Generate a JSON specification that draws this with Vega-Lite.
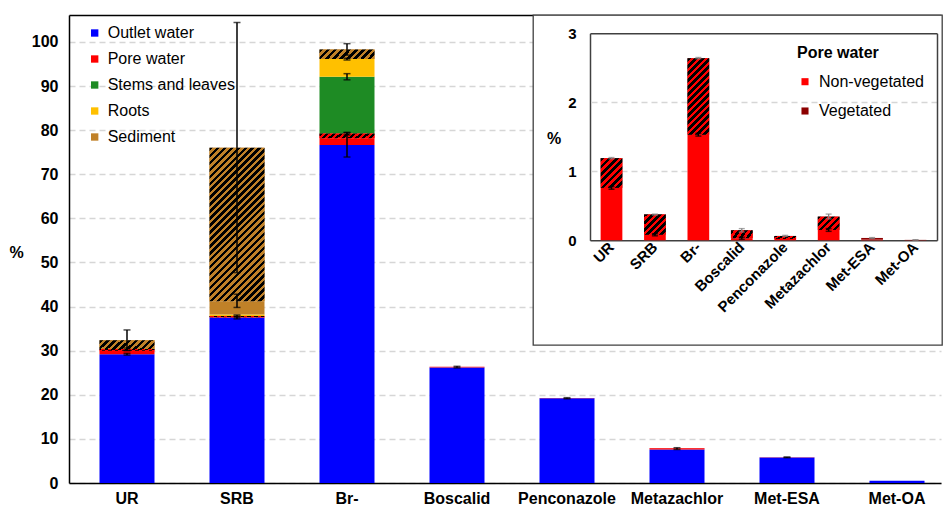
{
  "$schema": "https://vega.github.io/schema/vega-lite/v6.json",
  "padding": {"left": 8, "top": 14, "right": 0, "bottom": 0},
  "autosize": {"type": "pad"},
  "align": "none",
  "spacing": -409,
  "config": {
    "font": "Liberation Sans",
    "view": {"stroke": null},
    "axis": {"tickSize": 0, "ticks": false, "labelOverlap": false, "labelColor": "#000", "titleColor": "#000", "labelFont": "Liberation Sans", "titleFont": "Liberation Sans", "domainColor": "#000", "domainWidth": 1.5},
    "axisX": {"grid": false},
    "legend": {"labelFont": "Liberation Sans", "titleFont": "Liberation Sans", "labelColor": "#000", "titleColor": "#000"}
  },
  "resolve": {"scale": {"x": "independent", "y": "independent", "color": "independent"}, "legend": {"color": "independent"}},
  "datasets": {
    "main": [
      {"cat":"UR","comp":"Outlet water","veg":"","lo":0,"hi":29.2},
      {"cat":"UR","comp":"Pore water","veg":"Non-vegetated","lo":29.2,"hi":29.96},
      {"cat":"UR","comp":"Pore water","veg":"Vegetated","lo":29.96,"hi":30.39},
      {"cat":"UR","comp":"Sediment","veg":"Vegetated","lo":30.39,"hi":32.35},
      {"cat":"SRB","comp":"Outlet water","veg":"","lo":0,"hi":37.5},
      {"cat":"SRB","comp":"Pore water","veg":"Non-vegetated","lo":37.5,"hi":37.58},
      {"cat":"SRB","comp":"Pore water","veg":"Vegetated","lo":37.58,"hi":37.87},
      {"cat":"SRB","comp":"Roots","veg":"","lo":37.87,"hi":38.2},
      {"cat":"SRB","comp":"Sediment","veg":"Non-vegetated","lo":38.2,"hi":41.2},
      {"cat":"SRB","comp":"Sediment","veg":"Vegetated","lo":41.2,"hi":76.0},
      {"cat":"Br-","comp":"Outlet water","veg":"","lo":0,"hi":76.6},
      {"cat":"Br-","comp":"Pore water","veg":"Non-vegetated","lo":76.6,"hi":78.13},
      {"cat":"Br-","comp":"Pore water","veg":"Vegetated","lo":78.13,"hi":79.24},
      {"cat":"Br-","comp":"Stems and leaves","veg":"","lo":79.24,"hi":92.1},
      {"cat":"Br-","comp":"Roots","veg":"","lo":92.1,"hi":96.1},
      {"cat":"Br-","comp":"Sediment","veg":"Vegetated","lo":96.1,"hi":98.3},
      {"cat":"Boscalid","comp":"Outlet water","veg":"","lo":0,"hi":26.2},
      {"cat":"Boscalid","comp":"Pore water","veg":"Non-vegetated","lo":26.2,"hi":26.23},
      {"cat":"Boscalid","comp":"Pore water","veg":"Vegetated","lo":26.23,"hi":26.35},
      {"cat":"Penconazole","comp":"Outlet water","veg":"","lo":0,"hi":19.2},
      {"cat":"Penconazole","comp":"Pore water","veg":"Non-vegetated","lo":19.2,"hi":19.22},
      {"cat":"Penconazole","comp":"Pore water","veg":"Vegetated","lo":19.22,"hi":19.26},
      {"cat":"Metazachlor","comp":"Outlet water","veg":"","lo":0,"hi":7.6},
      {"cat":"Metazachlor","comp":"Pore water","veg":"Non-vegetated","lo":7.6,"hi":7.75},
      {"cat":"Metazachlor","comp":"Pore water","veg":"Vegetated","lo":7.75,"hi":7.94},
      {"cat":"Met-ESA","comp":"Outlet water","veg":"","lo":0,"hi":5.8},
      {"cat":"Met-ESA","comp":"Pore water","veg":"Non-vegetated","lo":5.8,"hi":5.81},
      {"cat":"Met-ESA","comp":"Pore water","veg":"Vegetated","lo":5.81,"hi":5.83},
      {"cat":"Met-OA","comp":"Outlet water","veg":"","lo":0,"hi":0.5},
      {"cat":"Met-OA","comp":"Pore water","veg":"Non-vegetated","lo":0.5,"hi":0.503},
      {"cat":"Met-OA","comp":"Pore water","veg":"Vegetated","lo":0.503,"hi":0.506}
    ],
    "mainErr": [
      {"cat":"UR","lo":29.0,"hi":29.4},{"cat":"UR","lo":30.1,"hi":30.6},{"cat":"UR","lo":30.0,"hi":34.7},
      {"cat":"SRB","lo":37.2,"hi":37.8},{"cat":"SRB","lo":37.6,"hi":38.1},{"cat":"SRB","lo":39.8,"hi":42.8},{"cat":"SRB","lo":47.7,"hi":104.4},
      {"cat":"Br-","lo":73.9,"hi":79.4},{"cat":"Br-","lo":78.9,"hi":79.5},{"cat":"Br-","lo":91.4,"hi":92.8},{"cat":"Br-","lo":95.9,"hi":96.3},{"cat":"Br-","lo":97.0,"hi":99.6},
      {"cat":"Boscalid","lo":26.1,"hi":26.45},{"cat":"Penconazole","lo":19.1,"hi":19.35},{"cat":"Metazachlor","lo":7.6,"hi":8.0},{"cat":"Met-ESA","lo":5.75,"hi":5.9}
    ],
    "inset": [
      {"cat":"UR","veg":"Non-vegetated","lo":0,"hi":0.76},{"cat":"UR","veg":"Vegetated","lo":0.76,"hi":1.19},
      {"cat":"SRB","veg":"Non-vegetated","lo":0,"hi":0.08},{"cat":"SRB","veg":"Vegetated","lo":0.08,"hi":0.375},
      {"cat":"Br-","veg":"Non-vegetated","lo":0,"hi":1.53},{"cat":"Br-","veg":"Vegetated","lo":1.53,"hi":2.64},
      {"cat":"Boscalid","veg":"Non-vegetated","lo":0,"hi":0.03},{"cat":"Boscalid","veg":"Vegetated","lo":0.03,"hi":0.145},
      {"cat":"Penconazole","veg":"Non-vegetated","lo":0,"hi":0.02},{"cat":"Penconazole","veg":"Vegetated","lo":0.02,"hi":0.063},
      {"cat":"Metazachlor","veg":"Non-vegetated","lo":0,"hi":0.15},{"cat":"Metazachlor","veg":"Vegetated","lo":0.15,"hi":0.343},
      {"cat":"Met-ESA","veg":"Non-vegetated","lo":0,"hi":0.01},{"cat":"Met-ESA","veg":"Vegetated","lo":0.01,"hi":0.034},
      {"cat":"Met-OA","veg":"Non-vegetated","lo":0,"hi":0.003},{"cat":"Met-OA","veg":"Vegetated","lo":0.003,"hi":0.006}
    ],
    "insetErr": [
      {"cat":"UR","veg":"Vegetated","lo":1.18,"hi":1.2},{"cat":"SRB","veg":"Vegetated","lo":0.365,"hi":0.38},{"cat":"Br-","veg":"Vegetated","lo":2.63,"hi":2.65},
      {"cat":"Boscalid","veg":"Vegetated","lo":0.12,"hi":0.17},{"cat":"Penconazole","veg":"Vegetated","lo":0.055,"hi":0.072},{"cat":"Metazachlor","veg":"Vegetated","lo":0.31,"hi":0.38},
      {"cat":"Met-ESA","veg":"Vegetated","lo":0.027,"hi":0.04},{"cat":"Met-OA","veg":"Vegetated","lo":0.003,"hi":0.009},
      {"cat":"UR","veg":"Non-vegetated","lo":0.74,"hi":0.78},{"cat":"SRB","veg":"Non-vegetated","lo":0.065,"hi":0.095},{"cat":"Br-","veg":"Non-vegetated","lo":1.51,"hi":1.55},
      {"cat":"Boscalid","veg":"Non-vegetated","lo":0.015,"hi":0.045},{"cat":"Metazachlor","veg":"Non-vegetated","lo":0.13,"hi":0.17}
    ]
  },
  "hconcat": [
    {
      "width": 872,
      "height": 468,
      "resolve": {"axis": {"x": "independent"}},
      "layer": [
        {
          "data": {"name": "main"},
          "mark": {"type": "bar"},
          "encoding": {
            "x": {"field": "cat", "type": "nominal",
              "scale": {"domain": ["UR","SRB","Br-","Boscalid","Penconazole","Metazachlor","Met-ESA","Met-OA"], "paddingInner": 0.5, "paddingOuter": 0.2136, "align": 0.649},
              "axis": {"orient": "bottom", "title": null, "labelFontSize": 16, "labelFontWeight": "bold", "labelAngle": 0, "labelPadding": 7, "domainColor": "#000", "domainWidth": 1.5}},
            "y": {"field": "lo", "type": "quantitative", "title": "%",
              "scale": {"domain": [0, 106.1], "nice": false, "zero": true},
              "axis": {"orient": "left", "values": [0,10,20,30,40,50,60,70,80,90,100], "format": "d", "title": "%", "titleAngle": 0, "titleX": -53, "titleY": 237, "titleAlign": "center", "titleBaseline": "middle", "titleFontSize": 16, "titleFontWeight": "bold", "labelFontSize": 16, "labelFontWeight": "bold", "labelPadding": 11, "grid": true, "gridColor": "#D6D6D6", "gridDash": [6, 4], "gridWidth": 1.3, "domain": true, "domainColor": "#000", "domainWidth": 1.5}},
            "y2": {"field": "hi"},
            "color": {"field": "comp", "type": "nominal",
              "scale": {"domain": ["Outlet water","Pore water","Stems and leaves","Roots","Sediment"], "range": ["#0000FF","#FF0000","#1E8B24","#FFC000","#C08128"]},
              "legend": {"title": null, "orient": "none", "legendX": 17.7, "legendY": 10, "symbolType": "square", "symbolSize": 54, "labelFontSize": 16, "labelOffset": 5, "rowPadding": 10, "padding": 0, "symbolStrokeWidth": 0}}
          }
        },
        {
          "data": {"name": "main"},
          "transform": [{"filter": "datum.comp === 'Sediment' && datum.veg === 'Vegetated' && datum.cat !== 'SRB'"}],
          "mark": {"type": "bar", "fill": {"gradient": "linear", "x1": 0, "y1": 0, "x2": 1.13, "y2": 0.19, "stops": [{"offset":0,"color":"#000"},{"offset":0.0556,"color":"#000"},{"offset":0.0556,"color":"#C08128"},{"offset":0.1111,"color":"#C08128"},{"offset":0.1111,"color":"#000"},{"offset":0.1667,"color":"#000"},{"offset":0.1667,"color":"#C08128"},{"offset":0.2222,"color":"#C08128"},{"offset":0.2222,"color":"#000"},{"offset":0.2778,"color":"#000"},{"offset":0.2778,"color":"#C08128"},{"offset":0.3333,"color":"#C08128"},{"offset":0.3333,"color":"#000"},{"offset":0.3889,"color":"#000"},{"offset":0.3889,"color":"#C08128"},{"offset":0.4444,"color":"#C08128"},{"offset":0.4444,"color":"#000"},{"offset":0.5,"color":"#000"},{"offset":0.5,"color":"#C08128"},{"offset":0.5556,"color":"#C08128"},{"offset":0.5556,"color":"#000"},{"offset":0.6111,"color":"#000"},{"offset":0.6111,"color":"#C08128"},{"offset":0.6667,"color":"#C08128"},{"offset":0.6667,"color":"#000"},{"offset":0.7222,"color":"#000"},{"offset":0.7222,"color":"#C08128"},{"offset":0.7778,"color":"#C08128"},{"offset":0.7778,"color":"#000"},{"offset":0.8333,"color":"#000"},{"offset":0.8333,"color":"#C08128"},{"offset":0.8889,"color":"#C08128"},{"offset":0.8889,"color":"#000"},{"offset":0.9444,"color":"#000"},{"offset":0.9444,"color":"#C08128"},{"offset":1,"color":"#C08128"}]}},
          "encoding": {
            "x": {"field": "cat", "type": "nominal", "axis": {"orient": "top", "labels": false, "ticks": false, "domain": true, "domainColor": "#000", "domainWidth": 1.5, "title": null, "grid": false}},
            "y": {"field": "lo", "type": "quantitative", "title": "%"},
            "y2": {"field": "hi"}
          }
        },
        {
          "data": {"name": "main"},
          "transform": [{"filter": "datum.comp === 'Pore water' && datum.veg === 'Vegetated' && (datum.cat === 'UR' || datum.cat === 'SRB' || datum.cat === 'Br-')"}],
          "mark": {"type": "bar", "fill": {"gradient": "linear", "x1": 0, "y1": 0, "x2": 1.09, "y2": 0.113, "stops": [{"offset":0,"color":"#000"},{"offset":0.0556,"color":"#000"},{"offset":0.0556,"color":"#F00"},{"offset":0.1111,"color":"#F00"},{"offset":0.1111,"color":"#000"},{"offset":0.1667,"color":"#000"},{"offset":0.1667,"color":"#F00"},{"offset":0.2222,"color":"#F00"},{"offset":0.2222,"color":"#000"},{"offset":0.2778,"color":"#000"},{"offset":0.2778,"color":"#F00"},{"offset":0.3333,"color":"#F00"},{"offset":0.3333,"color":"#000"},{"offset":0.3889,"color":"#000"},{"offset":0.3889,"color":"#F00"},{"offset":0.4444,"color":"#F00"},{"offset":0.4444,"color":"#000"},{"offset":0.5,"color":"#000"},{"offset":0.5,"color":"#F00"},{"offset":0.5556,"color":"#F00"},{"offset":0.5556,"color":"#000"},{"offset":0.6111,"color":"#000"},{"offset":0.6111,"color":"#F00"},{"offset":0.6667,"color":"#F00"},{"offset":0.6667,"color":"#000"},{"offset":0.7222,"color":"#000"},{"offset":0.7222,"color":"#F00"},{"offset":0.7778,"color":"#F00"},{"offset":0.7778,"color":"#000"},{"offset":0.8333,"color":"#000"},{"offset":0.8333,"color":"#F00"},{"offset":0.8889,"color":"#F00"},{"offset":0.8889,"color":"#000"},{"offset":0.9444,"color":"#000"},{"offset":0.9444,"color":"#F00"},{"offset":1,"color":"#F00"}]}},
          "encoding": {
            "x": {"field": "cat", "type": "nominal", "axis": null},
            "y": {"field": "lo", "type": "quantitative", "title": "%"},
            "y2": {"field": "hi"}
          }
        },
        {
          "data": {"name": "main"},
          "transform": [{"filter": "datum.comp === 'Sediment' && datum.veg === 'Vegetated' && datum.cat === 'SRB'"}],
          "mark": {"type": "bar", "fill": {"gradient": "linear", "x1": 0, "y1": 0, "x2": 0.4313, "y2": 1.2038, "stops": [
            {"offset":0,"color":"#000"},{"offset":0.0167,"color":"#000"},{"offset":0.0167,"color":"#C08128"},{"offset":0.0333,"color":"#C08128"},
            {"offset":0.0333,"color":"#000"},{"offset":0.05,"color":"#000"},{"offset":0.05,"color":"#C08128"},{"offset":0.0667,"color":"#C08128"},
            {"offset":0.0667,"color":"#000"},{"offset":0.0833,"color":"#000"},{"offset":0.0833,"color":"#C08128"},{"offset":0.1,"color":"#C08128"},
            {"offset":0.1,"color":"#000"},{"offset":0.1167,"color":"#000"},{"offset":0.1167,"color":"#C08128"},{"offset":0.1333,"color":"#C08128"},
            {"offset":0.1333,"color":"#000"},{"offset":0.15,"color":"#000"},{"offset":0.15,"color":"#C08128"},{"offset":0.1667,"color":"#C08128"},
            {"offset":0.1667,"color":"#000"},{"offset":0.1833,"color":"#000"},{"offset":0.1833,"color":"#C08128"},{"offset":0.2,"color":"#C08128"},
            {"offset":0.2,"color":"#000"},{"offset":0.2167,"color":"#000"},{"offset":0.2167,"color":"#C08128"},{"offset":0.2333,"color":"#C08128"},
            {"offset":0.2333,"color":"#000"},{"offset":0.25,"color":"#000"},{"offset":0.25,"color":"#C08128"},{"offset":0.2667,"color":"#C08128"},
            {"offset":0.2667,"color":"#000"},{"offset":0.2833,"color":"#000"},{"offset":0.2833,"color":"#C08128"},{"offset":0.3,"color":"#C08128"},
            {"offset":0.3,"color":"#000"},{"offset":0.3167,"color":"#000"},{"offset":0.3167,"color":"#C08128"},{"offset":0.3333,"color":"#C08128"},
            {"offset":0.3333,"color":"#000"},{"offset":0.35,"color":"#000"},{"offset":0.35,"color":"#C08128"},{"offset":0.3667,"color":"#C08128"},
            {"offset":0.3667,"color":"#000"},{"offset":0.3833,"color":"#000"},{"offset":0.3833,"color":"#C08128"},{"offset":0.4,"color":"#C08128"},
            {"offset":0.4,"color":"#000"},{"offset":0.4167,"color":"#000"},{"offset":0.4167,"color":"#C08128"},{"offset":0.4333,"color":"#C08128"},
            {"offset":0.4333,"color":"#000"},{"offset":0.45,"color":"#000"},{"offset":0.45,"color":"#C08128"},{"offset":0.4667,"color":"#C08128"},
            {"offset":0.4667,"color":"#000"},{"offset":0.4833,"color":"#000"},{"offset":0.4833,"color":"#C08128"},{"offset":0.5,"color":"#C08128"},
            {"offset":0.5,"color":"#000"},{"offset":0.5167,"color":"#000"},{"offset":0.5167,"color":"#C08128"},{"offset":0.5333,"color":"#C08128"},
            {"offset":0.5333,"color":"#000"},{"offset":0.55,"color":"#000"},{"offset":0.55,"color":"#C08128"},{"offset":0.5667,"color":"#C08128"},
            {"offset":0.5667,"color":"#000"},{"offset":0.5833,"color":"#000"},{"offset":0.5833,"color":"#C08128"},{"offset":0.6,"color":"#C08128"},
            {"offset":0.6,"color":"#000"},{"offset":0.6167,"color":"#000"},{"offset":0.6167,"color":"#C08128"},{"offset":0.6333,"color":"#C08128"},
            {"offset":0.6333,"color":"#000"},{"offset":0.65,"color":"#000"},{"offset":0.65,"color":"#C08128"},{"offset":0.6667,"color":"#C08128"},
            {"offset":0.6667,"color":"#000"},{"offset":0.6833,"color":"#000"},{"offset":0.6833,"color":"#C08128"},{"offset":0.7,"color":"#C08128"},
            {"offset":0.7,"color":"#000"},{"offset":0.7167,"color":"#000"},{"offset":0.7167,"color":"#C08128"},{"offset":0.7333,"color":"#C08128"},
            {"offset":0.7333,"color":"#000"},{"offset":0.75,"color":"#000"},{"offset":0.75,"color":"#C08128"},{"offset":0.7667,"color":"#C08128"},
            {"offset":0.7667,"color":"#000"},{"offset":0.7833,"color":"#000"},{"offset":0.7833,"color":"#C08128"},{"offset":0.8,"color":"#C08128"},
            {"offset":0.8,"color":"#000"},{"offset":0.8167,"color":"#000"},{"offset":0.8167,"color":"#C08128"},{"offset":0.8333,"color":"#C08128"},
            {"offset":0.8333,"color":"#000"},{"offset":0.85,"color":"#000"},{"offset":0.85,"color":"#C08128"},{"offset":0.8667,"color":"#C08128"},
            {"offset":0.8667,"color":"#000"},{"offset":0.8833,"color":"#000"},{"offset":0.8833,"color":"#C08128"},{"offset":0.9,"color":"#C08128"},
            {"offset":0.9,"color":"#000"},{"offset":0.9167,"color":"#000"},{"offset":0.9167,"color":"#C08128"},{"offset":0.9333,"color":"#C08128"},
            {"offset":0.9333,"color":"#000"},{"offset":0.95,"color":"#000"},{"offset":0.95,"color":"#C08128"},{"offset":0.9667,"color":"#C08128"},
            {"offset":0.9667,"color":"#000"},{"offset":0.9833,"color":"#000"},{"offset":0.9833,"color":"#C08128"},{"offset":1,"color":"#C08128"}]}},
          "encoding": {
            "x": {"field": "cat", "type": "nominal", "axis": null},
            "y": {"field": "lo", "type": "quantitative", "title": "%"},
            "y2": {"field": "hi"}
          }
        },
        {
          "data": {"name": "mainErr"},
          "mark": {"type": "errorbar", "ticks": true, "size": 7, "thickness": 1.5, "color": "#000"},
          "encoding": {
            "x": {"field": "cat", "type": "nominal", "axis": null},
            "y": {"field": "lo", "type": "quantitative", "title": "%"},
            "y2": {"field": "hi"}
          }
        }
      ]
    },
    {
      "width": 409,
      "height": 330,
      "view": {"fill": "white", "stroke": "#404040", "strokeWidth": 1.3},
      "resolve": {"axis": {"x": "independent", "y": "independent"}},
      "layer": [
        {
          "data": {"name": "inset"},
          "mark": {"type": "bar"},
          "encoding": {
            "x": {"field": "cat", "type": "nominal",
              "scale": {"domain": ["UR","SRB","Br-","Boscalid","Penconazole","Metazachlor","Met-ESA","Met-OA"], "range": [57, 404], "paddingInner": 0.5, "paddingOuter": 0.245},
              "axis": {"orient": "bottom", "offset": -104.7, "title": null, "labelAngle": -45, "labelAlign": "right", "labelBaseline": "middle", "labelFontSize": 15, "labelFontWeight": "bold", "labelPadding": 4, "domainColor": "#404040", "domainWidth": 1.5}},
            "y": {"field": "lo", "type": "quantitative",
              "scale": {"domain": [0, 3], "range": [225.3, 18.3], "nice": false, "zero": true},
              "axis": {"orient": "left", "offset": -57, "values": [0,1,2,3], "format": "d", "grid": false, "labelFontSize": 15, "labelFontWeight": "bold", "labelPadding": 14, "domainColor": "#404040", "domainWidth": 1.5, "title": "%", "titleAngle": 0, "titleX": -36.5, "titleY": 123, "titleAlign": "center", "titleBaseline": "middle", "titleFontSize": 16, "titleFontWeight": "bold"}},
            "y2": {"field": "hi"},
            "color": {"field": "veg", "type": "nominal",
              "scale": {"domain": ["Non-vegetated","Vegetated"], "range": ["#FF0000","#8C0000"]},
              "legend": {"title": "Pore water", "orient": "none", "legendX": 264, "legendY": 29.7, "symbolType": "square", "symbolSize": 50, "labelFontSize": 16, "labelOffset": 6, "rowPadding": 13.3, "titleFontSize": 16, "titleFontWeight": "bold", "titlePadding": 13, "padding": 0, "symbolStrokeWidth": 0}}
          }
        },
        {
          "data": {"name": "inset"},
          "transform": [{"filter": "datum.veg === 'Vegetated' && datum.cat === 'UR'"}],
          "mark": {"type": "bar", "fill": {"gradient": "linear", "x1": 0, "y1": 0, "x2": 0.824, "y2": 1.128, "stops": [{"offset":0,"color":"#000"},{"offset":0.0714,"color":"#000"},{"offset":0.0714,"color":"#F00"},{"offset":0.1429,"color":"#F00"},{"offset":0.1429,"color":"#000"},{"offset":0.2143,"color":"#000"},{"offset":0.2143,"color":"#F00"},{"offset":0.2857,"color":"#F00"},{"offset":0.2857,"color":"#000"},{"offset":0.3571,"color":"#000"},{"offset":0.3571,"color":"#F00"},{"offset":0.4286,"color":"#F00"},{"offset":0.4286,"color":"#000"},{"offset":0.5,"color":"#000"},{"offset":0.5,"color":"#F00"},{"offset":0.5714,"color":"#F00"},{"offset":0.5714,"color":"#000"},{"offset":0.6429,"color":"#000"},{"offset":0.6429,"color":"#F00"},{"offset":0.7143,"color":"#F00"},{"offset":0.7143,"color":"#000"},{"offset":0.7857,"color":"#000"},{"offset":0.7857,"color":"#F00"},{"offset":0.8571,"color":"#F00"},{"offset":0.8571,"color":"#000"},{"offset":0.9286,"color":"#000"},{"offset":0.9286,"color":"#F00"},{"offset":1,"color":"#F00"}]}},
          "encoding": {
            "x": {"field": "cat", "type": "nominal", "axis": {"orient": "top", "offset": -18.3, "labels": false, "ticks": false, "domain": true, "domainColor": "#404040", "domainWidth": 1.5, "title": null, "grid": false}},
            "y": {"field": "lo", "type": "quantitative", "axis": {"orient": "right", "offset": -5, "values": [1, 2], "labels": false, "ticks": true, "tickSize": -347, "tickColor": "#D6D6D6", "tickDash": [6, 4], "tickWidth": 1.3, "domain": true, "domainColor": "#404040", "domainWidth": 1.5, "title": null, "grid": false}},
            "y2": {"field": "hi"}
          }
        },
        {
          "data": {"name": "inset"},
          "transform": [{"filter": "datum.veg === 'Vegetated' && datum.cat === 'SRB'"}],
          "mark": {"type": "bar", "fill": {"gradient": "linear", "x1": 0, "y1": 0, "x2": 1.03, "y2": 0.968, "stops": [{"offset":0,"color":"#000"},{"offset":0.0833,"color":"#000"},{"offset":0.0833,"color":"#F00"},{"offset":0.1667,"color":"#F00"},{"offset":0.1667,"color":"#000"},{"offset":0.25,"color":"#000"},{"offset":0.25,"color":"#F00"},{"offset":0.3333,"color":"#F00"},{"offset":0.3333,"color":"#000"},{"offset":0.4167,"color":"#000"},{"offset":0.4167,"color":"#F00"},{"offset":0.5,"color":"#F00"},{"offset":0.5,"color":"#000"},{"offset":0.5833,"color":"#000"},{"offset":0.5833,"color":"#F00"},{"offset":0.6667,"color":"#F00"},{"offset":0.6667,"color":"#000"},{"offset":0.75,"color":"#000"},{"offset":0.75,"color":"#F00"},{"offset":0.8333,"color":"#F00"},{"offset":0.8333,"color":"#000"},{"offset":0.9167,"color":"#000"},{"offset":0.9167,"color":"#F00"},{"offset":1,"color":"#F00"}]}},
          "encoding": {
            "x": {"field": "cat", "type": "nominal", "axis": null},
            "y": {"field": "lo", "type": "quantitative", "axis": null},
            "y2": {"field": "hi"}
          }
        },
        {
          "data": {"name": "inset"},
          "transform": [{"filter": "datum.veg === 'Vegetated' && datum.cat === 'Br-'"}],
          "mark": {"type": "bar", "fill": {"gradient": "linear", "x1": 0, "y1": 0, "x2": 0.3366, "y2": 1.188, "stops": [{"offset":0,"color":"#000"},{"offset":0.0357,"color":"#000"},{"offset":0.0357,"color":"#F00"},{"offset":0.0714,"color":"#F00"},{"offset":0.0714,"color":"#000"},{"offset":0.1071,"color":"#000"},{"offset":0.1071,"color":"#F00"},{"offset":0.1429,"color":"#F00"},{"offset":0.1429,"color":"#000"},{"offset":0.1786,"color":"#000"},{"offset":0.1786,"color":"#F00"},{"offset":0.2143,"color":"#F00"},{"offset":0.2143,"color":"#000"},{"offset":0.25,"color":"#000"},{"offset":0.25,"color":"#F00"},{"offset":0.2857,"color":"#F00"},{"offset":0.2857,"color":"#000"},{"offset":0.3214,"color":"#000"},{"offset":0.3214,"color":"#F00"},{"offset":0.3571,"color":"#F00"},{"offset":0.3571,"color":"#000"},{"offset":0.3929,"color":"#000"},{"offset":0.3929,"color":"#F00"},{"offset":0.4286,"color":"#F00"},{"offset":0.4286,"color":"#000"},{"offset":0.4643,"color":"#000"},{"offset":0.4643,"color":"#F00"},{"offset":0.5,"color":"#F00"},{"offset":0.5,"color":"#000"},{"offset":0.5357,"color":"#000"},{"offset":0.5357,"color":"#F00"},{"offset":0.5714,"color":"#F00"},{"offset":0.5714,"color":"#000"},{"offset":0.6071,"color":"#000"},{"offset":0.6071,"color":"#F00"},{"offset":0.6429,"color":"#F00"},{"offset":0.6429,"color":"#000"},{"offset":0.6786,"color":"#000"},{"offset":0.6786,"color":"#F00"},{"offset":0.7143,"color":"#F00"},{"offset":0.7143,"color":"#000"},{"offset":0.75,"color":"#000"},{"offset":0.75,"color":"#F00"},{"offset":0.7857,"color":"#F00"},{"offset":0.7857,"color":"#000"},{"offset":0.8214,"color":"#000"},{"offset":0.8214,"color":"#F00"},{"offset":0.8571,"color":"#F00"},{"offset":0.8571,"color":"#000"},{"offset":0.8929,"color":"#000"},{"offset":0.8929,"color":"#F00"},{"offset":0.9286,"color":"#F00"},{"offset":0.9286,"color":"#000"},{"offset":0.9643,"color":"#000"},{"offset":0.9643,"color":"#F00"},{"offset":1,"color":"#F00"}]}},
          "encoding": {
            "x": {"field": "cat", "type": "nominal", "axis": null},
            "y": {"field": "lo", "type": "quantitative", "axis": null},
            "y2": {"field": "hi"}
          }
        },
        {
          "data": {"name": "inset"},
          "transform": [{"filter": "datum.veg === 'Vegetated' && (datum.cat === 'Boscalid' || datum.cat === 'Penconazole')"}],
          "mark": {"type": "bar", "fill": {"gradient": "linear", "x1": 0, "y1": 0, "x2": 1.16, "y2": 0.3, "stops": [{"offset":0,"color":"#000"},{"offset":0.125,"color":"#000"},{"offset":0.125,"color":"#F00"},{"offset":0.25,"color":"#F00"},{"offset":0.25,"color":"#000"},{"offset":0.375,"color":"#000"},{"offset":0.375,"color":"#F00"},{"offset":0.5,"color":"#F00"},{"offset":0.5,"color":"#000"},{"offset":0.625,"color":"#000"},{"offset":0.625,"color":"#F00"},{"offset":0.75,"color":"#F00"},{"offset":0.75,"color":"#000"},{"offset":0.875,"color":"#000"},{"offset":0.875,"color":"#F00"},{"offset":1,"color":"#F00"}]}},
          "encoding": {
            "x": {"field": "cat", "type": "nominal", "axis": null},
            "y": {"field": "lo", "type": "quantitative", "axis": null},
            "y2": {"field": "hi"}
          }
        },
        {
          "data": {"name": "inset"},
          "transform": [{"filter": "datum.veg === 'Vegetated' && datum.cat === 'Metazachlor'"}],
          "mark": {"type": "bar", "fill": {"gradient": "linear", "x1": 0, "y1": 0, "x2": 1.172, "y2": 0.718, "stops": [{"offset":0,"color":"#000"},{"offset":0.1,"color":"#000"},{"offset":0.1,"color":"#F00"},{"offset":0.2,"color":"#F00"},{"offset":0.2,"color":"#000"},{"offset":0.3,"color":"#000"},{"offset":0.3,"color":"#F00"},{"offset":0.4,"color":"#F00"},{"offset":0.4,"color":"#000"},{"offset":0.5,"color":"#000"},{"offset":0.5,"color":"#F00"},{"offset":0.6,"color":"#F00"},{"offset":0.6,"color":"#000"},{"offset":0.7,"color":"#000"},{"offset":0.7,"color":"#F00"},{"offset":0.8,"color":"#F00"},{"offset":0.8,"color":"#000"},{"offset":0.9,"color":"#000"},{"offset":0.9,"color":"#F00"},{"offset":1,"color":"#F00"}]}},
          "encoding": {
            "x": {"field": "cat", "type": "nominal", "axis": null},
            "y": {"field": "lo", "type": "quantitative", "axis": null},
            "y2": {"field": "hi"}
          }
        },
        {
          "data": {"name": "insetErr"},
          "transform": [{"filter": "datum.veg === 'Vegetated'"}],
          "mark": {"type": "errorbar", "ticks": true, "size": 6, "thickness": 1.3, "color": "#808080"},
          "encoding": {
            "x": {"field": "cat", "type": "nominal", "axis": null},
            "y": {"field": "lo", "type": "quantitative", "axis": null},
            "y2": {"field": "hi"}
          }
        },
        {
          "data": {"name": "insetErr"},
          "transform": [{"filter": "datum.veg === 'Non-vegetated'"}],
          "mark": {"type": "errorbar", "ticks": true, "size": 6, "thickness": 1.5, "color": "#000"},
          "encoding": {
            "x": {"field": "cat", "type": "nominal", "axis": null},
            "y": {"field": "lo", "type": "quantitative", "axis": null},
            "y2": {"field": "hi"}
          }
        }
      ]
    }
  ]
}
